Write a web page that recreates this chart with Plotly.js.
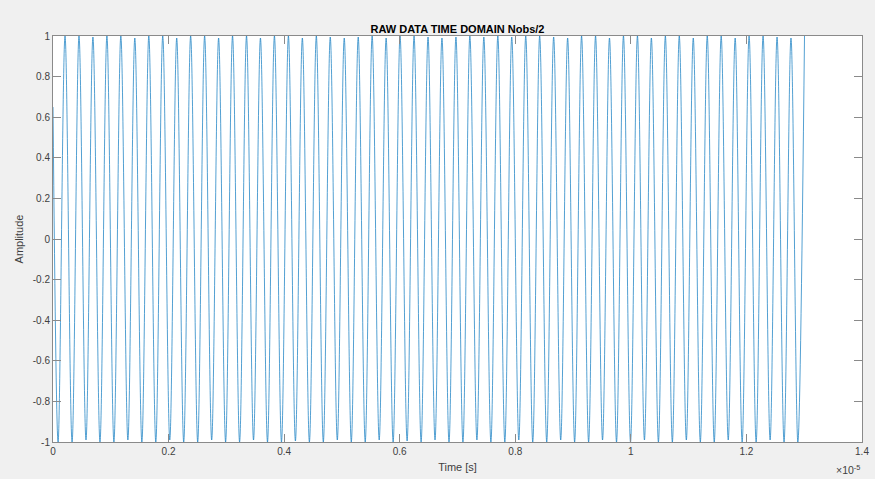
<!DOCTYPE html>
<html>
<head>
<meta charset="utf-8">
<script src="https://cdn.plot.ly/plotly-3.0.1.min.js"></script>
<style>
html,body{margin:0;padding:0;background:#f0f0f0;}
#chart{width:875px;height:479px;}
</style>
</head>
<body>
<div id="chart"></div>
<script>
// Time in units of 1e-5 s (axis shows x10^-5)
const startTime = 0;
const startValue = 0.65;

const troughTimes = [0.0088,0.0330,0.0571,0.0813,0.1054,0.1296,0.1538,0.1779,0.2021,0.2262,
  0.2504,0.2746,0.2987,0.3229,0.3470,0.3712,0.3954,0.4195,0.4437,0.4678,
  0.4920,0.5162,0.5403,0.5645,0.5886,0.6128,0.6370,0.6611,0.6853,0.7094,
  0.7336,0.7578,0.7819,0.8061,0.8302,0.8544,0.8786,0.9027,0.9269,0.9510,
  0.9752,0.9994,1.0235,1.0477,1.0718,1.0960,1.1202,1.1443,1.1685,1.1926,
  1.2168,1.2410,1.2651,1.2890];
const troughValues = [-1,-1,-0.99,-1,-1,-0.99,-1,-1,-0.99,-1,
  -1,-0.99,-1,-1,-0.99,-1,-1,-0.995,-1,-1,
  -0.99,-1,-1,-0.99,-1,-0.995,-1,-0.99,-1,-1,
  -0.99,-1,-1,-0.99,-1,-1,-0.99,-1,-1,-0.99,
  -1,-1,-0.99,-1,-1,-0.99,-1,-1,-0.99,-1,
  -1,-0.99,-1,-1];

const peakTimes = [0.0208,0.0450,0.0691,0.0933,0.1174,0.1416,0.1658,0.1899,0.2141,0.2382,
  0.2624,0.2866,0.3107,0.3349,0.3590,0.3832,0.4074,0.4315,0.4557,0.4798,
  0.5040,0.5282,0.5523,0.5765,0.6006,0.6248,0.6490,0.6731,0.6973,0.7214,
  0.7456,0.7698,0.7939,0.8181,0.8422,0.8664,0.8906,0.9147,0.9389,0.9630,
  0.9872,1.0114,1.0355,1.0597,1.0838,1.1080,1.1322,1.1563,1.1805,1.2046,
  1.2288,1.2530,1.2771,1.3005];
const peakValues = [1,1,0.995,1,1,0.99,1,1,0.99,1,
  1,0.99,1,1,0.99,1,1,0.99,1,0.995,
  0.99,0.995,1,0.99,1,1,0.995,0.99,0.995,1,
  0.995,1,0.995,1,1,0.995,0.99,1,1,0.99,
  1,1,0.99,1,1,0.99,1,1,0.99,1,
  1,0.995,0.99,1];

const xTickVals = [0,0.2,0.4,0.6,0.8,1,1.2,1.4];
const xTickText = ['0','0.2','0.4','0.6','0.8','1','1.2','1.4'];
const yTickVals = [-1,-0.8,-0.6,-0.4,-0.2,0,0.2,0.4,0.6,0.8,1];
const yTickText = ['-1','-0.8','-0.6','-0.4','-0.2','0','0.2','0.4','0.6','0.8','1'];

// assemble signal: start, then alternating trough / peak
const xs = [startTime], ys = [startValue];
for (let i = 0; i < troughTimes.length; i++) {
  xs.push(troughTimes[i]); ys.push(troughValues[i]);
  xs.push(peakTimes[i]); ys.push(peakValues[i]);
}

const FONT = 'Liberation Sans, Arial, sans-serif';
const axisCommon = {
  showline: true, linecolor: '#8a8a8a', linewidth: 1, mirror: 'ticks',
  ticks: 'inside', ticklen: 8, tickcolor: '#8a8a8a', tickwidth: 1,
  showgrid: false, zeroline: false,
  tickfont: {family: FONT, size: 10, color: '#404040'}
};

const trace = {
  x: xs, y: ys, type: 'scatter', mode: 'lines',
  line: {color: '#0072BD', width: 0.8, shape: 'spline', smoothing: 1},
  opacity: 0.85, hoverinfo: 'skip'
};

const layout = {
  width: 875, height: 479,
  paper_bgcolor: '#f0f0f0', plot_bgcolor: '#ffffff',
  margin: {l: 53, r: 13, t: 36, b: 37},
  showlegend: false,
  title: {text: '<b>RAW DATA TIME DOMAIN Nobs/2</b>',
    font: {family: FONT, size: 11, color: '#000000'},
    x: 0.5, xref: 'paper', xanchor: 'center', y: 1, yref: 'paper', yanchor: 'bottom', pad: {b: 3}},
  xaxis: Object.assign({}, axisCommon, {
    range: [0, 1.4], tickmode: 'array', tickvals: xTickVals, ticktext: xTickText,
    title: {text: 'Time [s]', font: {family: FONT, size: 11, color: '#404040'}, standoff: 7}
  }),
  yaxis: Object.assign({}, axisCommon, {
    range: [-1, 1], tickmode: 'array', tickvals: yTickVals, ticktext: yTickText,
    title: {text: 'Amplitude', font: {family: FONT, size: 11, color: '#404040'}, standoff: 6}
  }),
  annotations: [{
    text: '×10<sup>-5</sup>', xref: 'paper', yref: 'paper', x: 1, y: 0,
    xanchor: 'right', yanchor: 'top', yshift: -19, showarrow: false,
    font: {family: FONT, size: 10.5, color: '#404040'}
  }]
};

Plotly.newPlot('chart', [trace], layout, {displayModeBar: false, staticPlot: true});
</script>
</body>
</html>
